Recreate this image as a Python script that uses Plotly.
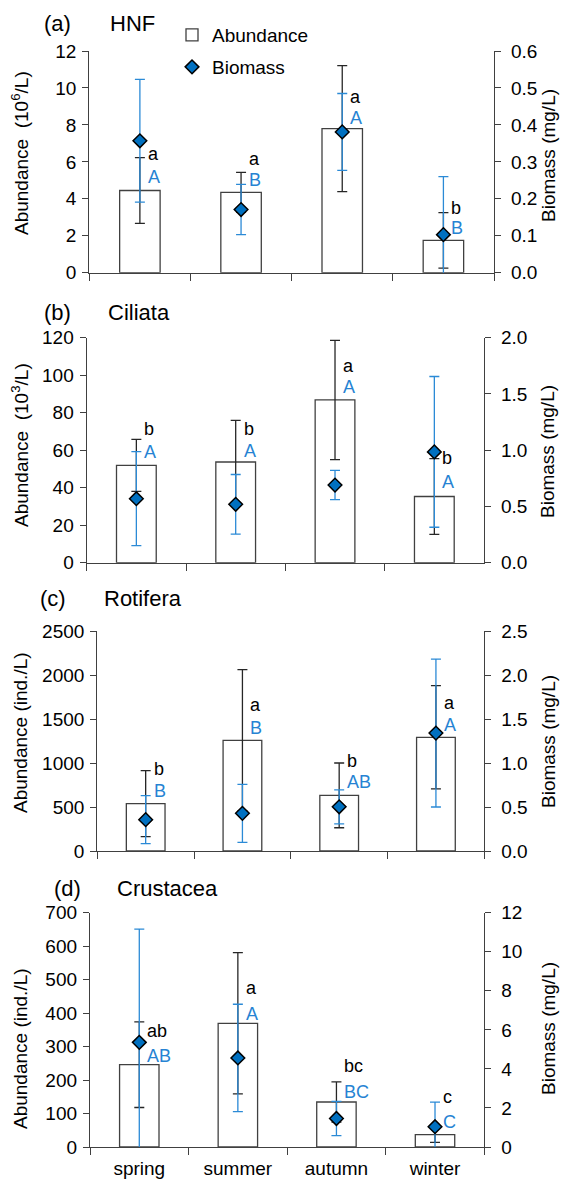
import plotly.graph_objects as go

W, H = 562, 1185

seasons = ["spring", "summer", "autumn", "winter"]

# (a) HNF
hnf_abund = [4.45, 4.35, 7.8, 1.75]
hnf_abund_sd = [1.78, 1.08, 3.41, 1.5]
hnf_bio = [0.357, 0.171, 0.381, 0.103]
hnf_bio_sd = [0.166, 0.068, 0.104, 0.157]
hnf_abund_letters = ["a", "a", "a", "b"]
hnf_bio_letters = ["A", "B", "A", "B"]
hnf_abund_letter_y = [6.41, 6.15, 9.53, 3.52]
hnf_bio_letter_y = [5.2, 5.0, 8.36, 2.4]

# (b) Ciliata
cil_abund = [51.9, 53.7, 86.8, 35.3]
cil_abund_sd = [13.9, 22.2, 31.8, 20.2]
cil_bio = [0.569, 0.519, 0.69, 0.985]
cil_bio_sd = [0.418, 0.265, 0.13, 0.67]
cil_abund_letters = ["b", "b", "a", "b"]
cil_bio_letters = ["A", "A", "A", "A"]
cil_abund_letter_y = [71.3, 71.3, 105, 55.6]
cil_bio_letter_y = [59.2, 59.6, 93.5, 43.2]

# (c) Rotifera
rot_abund = [538, 1258, 632, 1292]
rot_abund_sd = [375, 803, 368, 587]
rot_bio = [0.356, 0.428, 0.502, 1.34]
rot_bio_sd = [0.273, 0.33, 0.193, 0.84]
rot_abund_letters = ["b", "a", "b", "a"]
rot_bio_letters = ["B", "B", "AB", "A"]
rot_abund_letter_y = [928, 1659, 1023, 1686]
rot_bio_letter_y = [686, 1402, 788, 1432]

# (d) Crustacea
cru_abund = [246, 369.5, 134.5, 37]
cru_abund_sd = [128, 211, 60, 23]
cru_bio = [5.36, 4.56, 1.46, 1.04]
cru_bio_sd = [5.8, 2.75, 0.88, 1.26]
cru_abund_letters = ["ab", "a", "bc", "c"]
cru_bio_letters = ["AB", "A", "BC", "C"]
cru_abund_letter_y = [346.6, 474, 243, 150]
cru_bio_letter_y = [272, 396, 165, 75.6]

panels = [
    dict(tag="(a)", name="HNF", ytitle="Abundance&nbsp; (10<sup>6</sup>/L)",
         abund=hnf_abund, abund_sd=hnf_abund_sd, bio=hnf_bio, bio_sd=hnf_bio_sd,
         al=hnf_abund_letters, bl=hnf_bio_letters, aly=hnf_abund_letter_y, bly=hnf_bio_letter_y,
         yrange=12, ydtick=2, y2range=0.6, y2dtick=0.1, y2fmt=".1f",
         xdom=(89.3, 494), ydom=(51, 272.7), tag_x=42, name_x=108, title_y=23,
         lt_y=153, rt_y=156),
    dict(tag="(b)", name="Ciliata", ytitle="Abundance&nbsp; (10<sup>3</sup>/L)",
         abund=cil_abund, abund_sd=cil_abund_sd, bio=cil_bio, bio_sd=cil_bio_sd,
         al=cil_abund_letters, bl=cil_bio_letters, aly=cil_abund_letter_y, bly=cil_bio_letter_y,
         yrange=120, ydtick=20, y2range=2.0, y2dtick=0.5, y2fmt=".1f",
         xdom=(86.7, 484), ydom=(337.7, 562.7), tag_x=42, name_x=106, title_y=312,
         lt_y=445, rt_y=452),
    dict(tag="(c)", name="Rotifera", ytitle="Abundance (ind./L)",
         abund=rot_abund, abund_sd=rot_abund_sd, bio=rot_bio, bio_sd=rot_bio_sd,
         al=rot_abund_letters, bl=rot_bio_letters, aly=rot_abund_letter_y, bly=rot_bio_letter_y,
         yrange=2500, ydtick=500, y2range=2.5, y2dtick=0.5, y2fmt=".1f",
         xdom=(97.3, 484.3), ydom=(631, 851), tag_x=38, name_x=102, title_y=598,
         lt_y=733, rt_y=742),
    dict(tag="(d)", name="Crustacea", ytitle="Abundance (ind./L)",
         abund=cru_abund, abund_sd=cru_abund_sd, bio=cru_bio, bio_sd=cru_bio_sd,
         al=cru_abund_letters, bl=cru_bio_letters, aly=cru_abund_letter_y, bly=cru_bio_letter_y,
         yrange=700, ydtick=100, y2range=12, y2dtick=2, y2fmt="d",
         xdom=(90, 484.3), ydom=(912.7, 1147), tag_x=52, name_x=115, title_y=888,
         lt_y=1049, rt_y=1029),
]

AX = "#404040"
ERR_BLACK = "#262626"
BLUE_ERR = "#2B8AD6"
BLUE_TXT = "#2683D3"
DIAMOND = "#0070C0"
FONT = "Liberation Sans, Arial, sans-serif"
TICK = 19

fig = go.Figure()
layout = dict(
    width=W, height=H, autosize=False,
    margin=dict(l=0, r=0, t=0, b=0),
    paper_bgcolor="white", plot_bgcolor="white",
    font=dict(family=FONT, size=TICK, color="black"),
    bargap=0.6,
    annotations=[],
)

for i, p in enumerate(panels):
    n = i + 1
    xa = "x" if n == 1 else f"x{n}"
    yl_id, yr_id = 2 * n - 1, 2 * n
    yla = "y" if yl_id == 1 else f"y{yl_id}"
    yra = f"y{yr_id}"
    xkey = "xaxis" if n == 1 else f"xaxis{n}"
    ylkey = "yaxis" if yl_id == 1 else f"yaxis{yl_id}"
    yrkey = f"yaxis{yr_id}"

    fig.add_trace(go.Bar(
        x=seasons, y=p["abund"], width=0.4,
        marker=dict(color="white", line=dict(color=AX, width=1.3)),
        error_y=dict(type="data", array=p["abund_sd"], visible=True,
                     color=ERR_BLACK, thickness=1.3, width=5),
        xaxis=xa, yaxis=yla, name="Abundance",
        showlegend=(n == 1), legend="legend", hoverinfo="skip",
    ))
    fig.add_trace(go.Scatter(
        x=seasons, y=p["bio"], mode="markers",
        marker=dict(symbol="diamond", size=10.5, color=DIAMOND,
                    line=dict(color="black", width=1.5)),
        error_y=dict(type="data", array=p["bio_sd"], visible=True,
                     color=BLUE_ERR, thickness=1.3, width=5),
        xaxis=xa, yaxis=yra, name="Biomass",
        showlegend=(n == 1), legend="legend2", hoverinfo="skip",
    ))

    x0, x1 = p["xdom"]
    yt, yb = p["ydom"]
    layout[xkey] = dict(
        domain=[x0 / W, x1 / W], anchor=yla, type="category",
        range=[-0.5, 3.5], tickson="boundaries", ticks="outside", ticklen=7,
        tickcolor=AX, tickwidth=1.3, showline=True, linecolor=AX, linewidth=1.3,
        showgrid=False, zeroline=False, showticklabels=(n == 4),
        ticklabelstandoff=4,
        tickfont=dict(size=TICK, color="black", family=FONT), automargin=False,
        fixedrange=True,
    )
    layout[ylkey] = dict(
        domain=[1 - yb / H, 1 - yt / H], anchor=xa,
        range=[0, p["yrange"]], tick0=0, dtick=p["ydtick"],
        ticks="outside", ticklen=6, tickcolor=AX, tickwidth=1.3,
        showline=True, linecolor=AX, linewidth=1.3,
        showgrid=False, zeroline=False, automargin=False,
        ticklabelstandoff=2,
        tickfont=dict(size=TICK, color="black", family=FONT), fixedrange=True,
    )
    y2 = dict(
        overlaying=yla, side="right", anchor=xa,
        range=[0, p["y2range"]], tick0=0, dtick=p["y2dtick"],
        ticks="outside", ticklen=6, tickcolor=AX, tickwidth=1.3,
        showline=True, linecolor=AX, linewidth=1.3,
        showgrid=False, zeroline=False, automargin=False,
        ticklabelstandoff=6,
        tickfont=dict(size=TICK, color="black", family=FONT), fixedrange=True,
    )
    if p["y2fmt"] != "d":
        y2["tickformat"] = p["y2fmt"]
    layout[yrkey] = y2

    ann = layout["annotations"]
    ann.append(dict(text=p["tag"], xref="paper", yref="paper",
                    x=p["tag_x"] / W, y=1 - p["title_y"] / H,
                    xanchor="left", yanchor="middle", showarrow=False,
                    font=dict(size=22, family=FONT, color="black")))
    ann.append(dict(text=p["name"], xref="paper", yref="paper",
                    x=p["name_x"] / W, y=1 - p["title_y"] / H,
                    xanchor="left", yanchor="middle", showarrow=False,
                    font=dict(size=22, family=FONT, color="black")))
    ann.append(dict(text=p["ytitle"], xref="paper", yref="paper",
                    x=20 / W, y=1 - p["lt_y"] / H, textangle=-90,
                    xanchor="center", yanchor="middle", showarrow=False,
                    font=dict(size=19, family=FONT, color="black")))
    ann.append(dict(text="Biomass (mg/L)", xref="paper", yref="paper",
                    x=548 / W, y=1 - p["rt_y"] / H, textangle=-90,
                    xanchor="center", yanchor="middle", showarrow=False,
                    font=dict(size=19, family=FONT, color="black")))
    for k, s in enumerate(seasons):
        ann.append(dict(text=p["al"][k], xref=xa, yref=yla, x=s, y=p["aly"][k],
                        xanchor="left", yanchor="middle", xshift=6, showarrow=False,
                        font=dict(size=18, family=FONT, color="black")))
        ann.append(dict(text=p["bl"][k], xref=xa, yref=yla, x=s, y=p["bly"][k],
                        xanchor="left", yanchor="middle", xshift=6, showarrow=False,
                        font=dict(size=18, family=FONT, color=BLUE_TXT)))

layout["legend"] = dict(x=172 / W, y=1 - 35 / H, xanchor="left", yanchor="middle",
                        bgcolor="rgba(0,0,0,0)", font=dict(size=19, family=FONT),
                        borderwidth=0)
layout["legend2"] = dict(x=172 / W, y=1 - 67 / H, xanchor="left", yanchor="middle",
                         bgcolor="rgba(0,0,0,0)", font=dict(size=19, family=FONT),
                         borderwidth=0)

fig.update_layout(**layout)
fig.write_html("out.html")
